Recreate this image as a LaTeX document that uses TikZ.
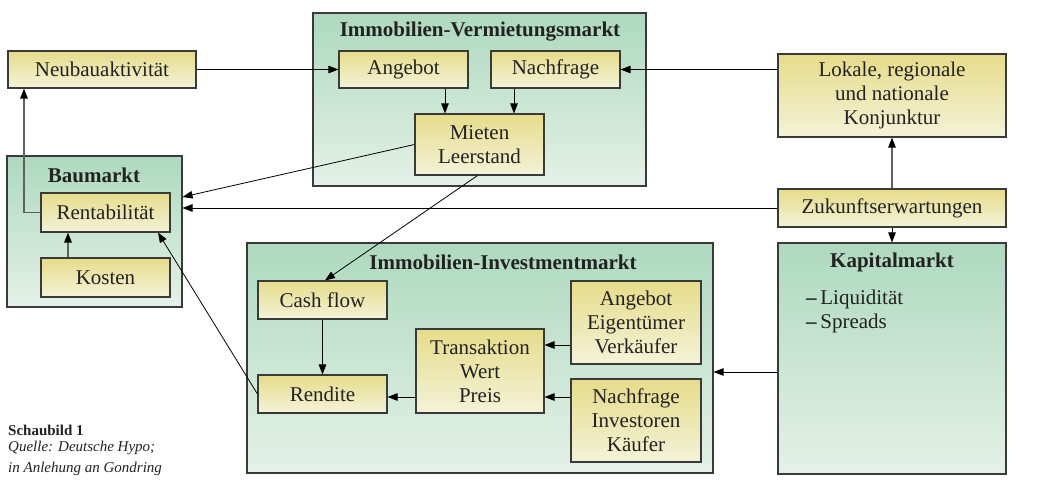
\documentclass[tikz,border=0pt]{standalone}
\usepackage{fontspec}
\setmainfont{Liberation Serif}
\usetikzlibrary{arrows.meta}
\definecolor{yTop}{HTML}{E6DC8A}
\definecolor{yBot}{HTML}{F3F3D8}
\definecolor{gTop}{HTML}{AED9BF}
\definecolor{gBot}{HTML}{E4F1E8}
\definecolor{bord}{HTML}{3A3A3A}
\definecolor{txt}{HTML}{222222}
\definecolor{grayline}{HTML}{606060}
\tikzset{
  base/.style={draw=bord, line width=1.1pt, inner sep=0pt, rectangle, text=txt, align=center,
    font=\fontsize{21}{24}\selectfont},
  ybox/.style={base, top color=yTop, bottom color=yBot},
  gbox/.style={base, top color=gTop, bottom color=gBot},
  title/.style={text=txt, inner sep=0pt, font=\fontsize{21}{24}\selectfont\bfseries},
  arr/.style={draw=black, line width=0.8pt, -{Triangle[length=10pt,width=7.5pt]}},
  garr/.style={draw=grayline, line width=1.2pt, -{Triangle[length=10pt,width=7.5pt,color=black]}},
}
\begin{document}
\begin{tikzpicture}[x=1pt,y=-1pt]
\useasboundingbox (0,0) rectangle (1051,489);
% containers
\node[gbox, minimum width=175pt, minimum height=151pt] (baumarkt) at (94.5,231.5) {};
\node[gbox, minimum width=333pt, minimum height=173pt] (verm) at (479.5,99.5) {};
\node[gbox, minimum width=466pt, minimum height=230pt] (invest) at (480,358) {};
\node[gbox, minimum width=228pt, minimum height=231pt] (kapital) at (892,358.5) {};
% titles
\node[title] (tbau) at (94,175) {Baumarkt};
\node[title] (tverm) at (480,32) {Immobilien-Vermietungsmarkt};
\node[title] (tinv) at (503,262) {Immobilien-Investmentmarkt};
\node[title] (tkap) at (892,262) {Kapitalmarkt};
\node[anchor=west, inner sep=0pt, text=txt, align=left, font=\fontsize{21}{24}\selectfont] (kapitems) at (806,311)
  {\textbf{–}\,Liquidität\\\textbf{–}\,Spreads};
% boxes
\node[ybox, minimum width=188pt, minimum height=37pt] (neubau) at (102,69.5) {Neubauaktivität};
\node[ybox, minimum width=129pt, minimum height=39pt] (rent) at (105.5,212.5) {Rentabilität};
\node[ybox, minimum width=129pt, minimum height=39pt] (kosten) at (105.5,277.5) {Kosten};
\node[ybox, minimum width=129pt, minimum height=37pt] (angebot) at (403.5,69.5) {Angebot};
\node[ybox, minimum width=129pt, minimum height=37pt] (nachfrage) at (555.5,69.5) {Nachfrage};
\node[ybox, minimum width=129pt, minimum height=61pt] (mieten) at (479.5,144.5) {Mieten\\Leerstand};
\node[ybox, minimum width=228pt, minimum height=83pt] (lokale) at (892,95.5) {Lokale, regionale\\und nationale\\Konjunktur};
\node[ybox, minimum width=228pt, minimum height=38pt] (zukunft) at (892,208) {Zukunftserwartungen};
\node[ybox, minimum width=129pt, minimum height=38pt] (cash) at (322.5,300) {Cash flow};
\node[ybox, minimum width=129pt, minimum height=38pt] (rendite) at (322.5,394) {Rendite};
\node[ybox, minimum width=128pt, minimum height=84pt] (trans) at (480,371) {Transaktion\\Wert\\Preis};
\node[ybox, minimum width=130pt, minimum height=83pt] (angebot2) at (636,322.5) {Angebot\\Eigentümer\\Verkäufer};
\node[ybox, minimum width=130pt, minimum height=83pt] (nachfrage2) at (636,420.5) {Nachfrage\\Investoren\\Käufer};
% caption
\node[anchor=west, inner sep=0pt, text=txt, font=\fontsize{15}{20}\selectfont\bfseries] (cap1) at (8,430) {Schaubild 1};
\node[anchor=north west, inner sep=0pt, text=txt, align=left, font=\fontsize{15}{21}\selectfont\itshape] (cap2) at (8,441)
  {Quelle: Deutsche Hypo;\\in Anlehung an Gondring};
% connectors
\draw[arr] (neubau.east) -- (angebot.west);
\draw[arr] (nachfrage.east -| lokale.west) -- (nachfrage.east);
\draw[arr] ([xshift=41.5pt]angebot.south) -- ([xshift=41.5pt]angebot.south |- mieten.north);
\draw[arr] ([xshift=-41.5pt]nachfrage.south) -- ([xshift=-41.5pt]nachfrage.south |- mieten.north);
\draw[arr] (mieten.west) -- ([yshift=34.5pt]baumarkt.east);
\draw[arr] (zukunft.west) -- (zukunft.west -| baumarkt.east);
\draw[arr] ([xshift=-2pt]mieten.south) -- ([xshift=2.5pt]cash.north);
\draw[arr] ([yshift=0pt]rendite.west) -- ([xshift=52.5pt]rent.south);
\draw[arr] (cash.south) -- (rendite.north);
\draw[arr] ([yshift=-26pt]trans.west) -- ([yshift=-26pt]trans.west -| rendite.east);
\draw[arr] ([yshift=-22.5pt]angebot2.west) -- ([yshift=-22.5pt]angebot2.west -| trans.east);
\draw[arr] ([yshift=23.5pt]nachfrage2.west) -- ([yshift=23.5pt]nachfrage2.west -| trans.east);
\draw[garr] (rent.west) -| ([xshift=-78pt]neubau.south);
\draw[garr] ([xshift=-37.5pt]kosten.north) -- ([xshift=-37.5pt]rent.south);
\draw[garr] (zukunft.north) -- (lokale.south);
\draw[arr] (zukunft.south) -- (kapital.north);
\draw[arr] ([yshift=-13.5pt]kapital.west) -- ([yshift=-13.5pt]kapital.west -| invest.east);
\end{tikzpicture}
\end{document}
